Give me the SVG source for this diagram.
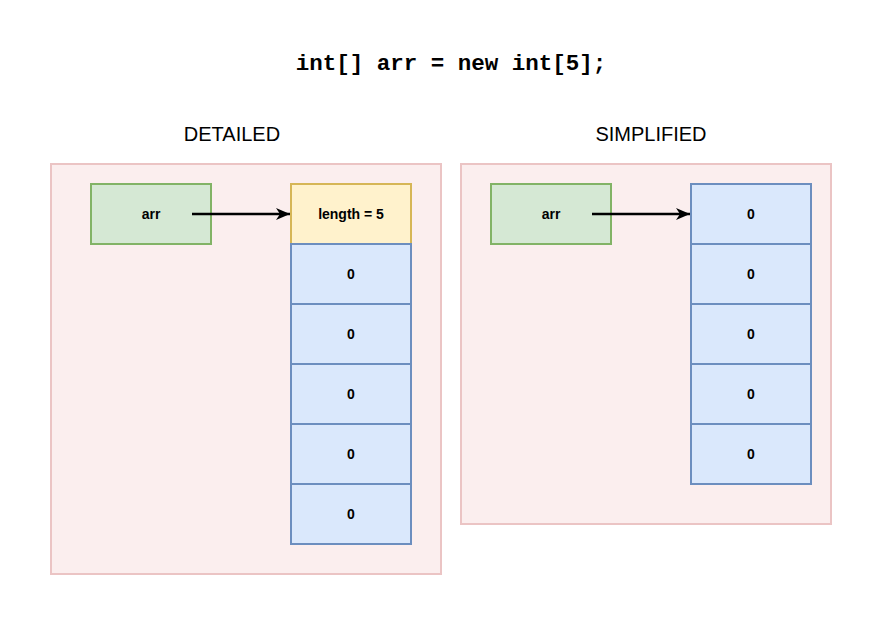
<svg xmlns="http://www.w3.org/2000/svg" width="883" height="626" viewBox="0 0 883 626">
<defs>
<style>
.ctr{fill:#FBEEEE;stroke:#EBC4C4;stroke-width:2}
.var{fill:#d5e8d4;stroke:#82b366;stroke-width:2}
.len{fill:#fff2cc;stroke:#d6b656;stroke-width:2}
.cell{fill:#dae8fc;stroke:#6c8ebf;stroke-width:2}
.lbl{font-family:"Liberation Sans",Arial,sans-serif;font-size:14px;font-weight:bold;fill:#000;text-anchor:middle;dominant-baseline:central}
.head{font-family:"Liberation Sans",Arial,sans-serif;font-size:20px;fill:#000;text-anchor:middle}
.code{font-family:"Liberation Mono","Courier New",monospace;font-size:22.5px;font-weight:bold;fill:#000;text-anchor:middle}
.edge{stroke:#000;stroke-width:2.5;fill:none}
</style>
<marker id="arrow" viewBox="0 0 14 12" refX="14" refY="6" markerWidth="14" markerHeight="12" markerUnits="userSpaceOnUse" orient="auto">
<path d="M0,0 L14,6 L0,12 L4,6 Z" fill="#000"/>
</marker>
</defs>
<rect width="883" height="626" fill="#fff"/>
<text class="code" x="451" y="70">int[] arr = new int[5];</text>
<text class="head" x="232" y="141">DETAILED</text>
<text class="head" x="651" y="141">SIMPLIFIED</text>
<g id="detailed-container"><rect class="ctr" x="51" y="164" width="390" height="410"/></g>
<g id="simplified-container"><rect class="ctr" x="461" y="164" width="370" height="360"/></g>
<g id="d-arr"><rect class="var" x="91" y="184" width="120" height="60"/><text class="lbl" x="151" y="214">arr</text></g>
<g id="d-length"><rect class="len" x="291" y="184" width="120" height="60"/><text class="lbl" x="351" y="214">length = 5</text></g>
<g id="d-cell0"><rect class="cell" x="291" y="244" width="120" height="60"/><text class="lbl" x="351" y="274">0</text></g>
<g id="d-cell1"><rect class="cell" x="291" y="304" width="120" height="60"/><text class="lbl" x="351" y="334">0</text></g>
<g id="d-cell2"><rect class="cell" x="291" y="364" width="120" height="60"/><text class="lbl" x="351" y="394">0</text></g>
<g id="d-cell3"><rect class="cell" x="291" y="424" width="120" height="60"/><text class="lbl" x="351" y="454">0</text></g>
<g id="d-cell4"><rect class="cell" x="291" y="484" width="120" height="60"/><text class="lbl" x="351" y="514">0</text></g>
<g id="s-arr"><rect class="var" x="491" y="184" width="120" height="60"/><text class="lbl" x="551" y="214">arr</text></g>
<g id="s-cell0"><rect class="cell" x="691" y="184" width="120" height="60"/><text class="lbl" x="751" y="214">0</text></g>
<g id="s-cell1"><rect class="cell" x="691" y="244" width="120" height="60"/><text class="lbl" x="751" y="274">0</text></g>
<g id="s-cell2"><rect class="cell" x="691" y="304" width="120" height="60"/><text class="lbl" x="751" y="334">0</text></g>
<g id="s-cell3"><rect class="cell" x="691" y="364" width="120" height="60"/><text class="lbl" x="751" y="394">0</text></g>
<g id="s-cell4"><rect class="cell" x="691" y="424" width="120" height="60"/><text class="lbl" x="751" y="454">0</text></g>
<g id="connectors">
<path class="edge" d="M192,214 L290,214" marker-end="url(#arrow)"/>
<path class="edge" d="M592,214 L690,214" marker-end="url(#arrow)"/>
</g>
</svg>
